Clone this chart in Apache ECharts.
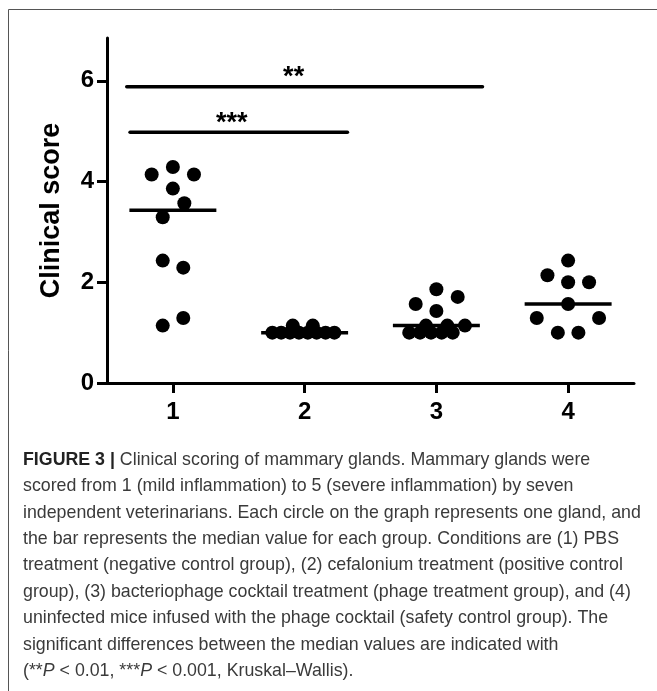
<!DOCTYPE html>
<html><head><meta charset="utf-8">
<script src="https://cdn.jsdelivr.net/npm/echarts@6/dist/echarts.min.js"></script>
<style>html,body{margin:0;padding:0;background:#fff}#c{width:657px;height:691px}</style>
</head><body><div id="c"></div>
<script>
// ---------- data ----------
const categories = ['1', '2', '3', '4'];
const group1 = [4.14, 4.29, 4.14, 3.86, 3.57, 3.29, 2.43, 2.29, 1.14, 1.29];
const group2 = [1, 1, 1, 1, 1, 1, 1, 1, 1.14, 1.14];
const group3 = [1.86, 1.71, 1.57, 1.43, 1.14, 1.14, 1.14, 1, 1, 1, 1, 1];
const group4 = [2.43, 2.14, 2.0, 2.0, 1.57, 1.29, 1.29, 1.0, 1.0];
const medians = [3.43, 1.0, 1.14, 1.57];
const yTickValues = [0, 2, 4, 6];
const sigLabels = ['***', '**'];
const sigFrom = [1, 1];
const sigTo = [2, 3];
const sigLevel = [4.98, 5.88];
const yAxisTitle = 'Clinical score';
const captionLines = [
  '{b|FIGURE 3 |} Clinical scoring of mammary glands. Mammary glands were',
  'scored from 1 (mild inflammation) to 5 (severe inflammation) by seven',
  'independent veterinarians. Each circle on the graph represents one gland, and',
  'the bar represents the median value for each group. Conditions are (1) PBS',
  'treatment (negative control group), (2) cefalonium treatment (positive control',
  'group), (3) bacteriophage cocktail treatment (phage treatment group), and (4)',
  'uninfected mice infused with the phage cocktail (safety control group). The',
  'significant differences between the median values are indicated with',
  '(**{i|P} < 0.01, ***{i|P} < 0.001, Kruskal\u2013Wallis).'
];

// ---------- layout (horizontal spread of dots, in category widths) ----------
const jitter1 = [-0.161, 0, 0.160, 0, 0.087, -0.077, -0.077, 0.079, -0.077, 0.079];
const jitter2 = [-0.245, -0.178, -0.111, -0.043, 0.024, 0.091, 0.159, 0.226, -0.090, 0.062];
const jitter3 = [0, 0.162, -0.157, 0, -0.079, 0.083, 0.217, -0.206, -0.124, -0.041, 0.040, 0.124];
const jitter4 = [0, -0.157, 0, 0.159, 0, -0.238, 0.235, -0.078, 0.078];
const medianHalf = 0.33;
const sigHalf = [0.325, 0.35];
const sigTextShift = [-7, -11];

const groups = [group1, group2, group3, group4];
const jitters = [jitter1, jitter2, jitter3, jitter4];

const scatterSeries = groups.map((g, gi) => ({
  type: 'scatter',
  symbol: 'circle',
  symbolSize: 14,
  itemStyle: { color: '#000', opacity: 1 },
  silent: true,
  z: 3,
  data: g.map((v, i) => [gi + 1 + jitters[gi][i], v])
}));

const medianSeries = {
  type: 'custom',
  z: 2,
  silent: true,
  data: medians.map((m, i) => [i + 1, m]),
  renderItem: function (params, api) {
    const x = api.value(0), y = api.value(1);
    const p1 = api.coord([x - medianHalf, y]);
    const p2 = api.coord([x + medianHalf, y]);
    return { type: 'line', shape: { x1: p1[0], y1: p1[1], x2: p2[0], y2: p2[1] },
      style: { stroke: '#000', lineWidth: 3.5 } };
  }
};

const sigSeries = {
  type: 'custom',
  z: 4,
  silent: true,
  clip: false,
  data: sigLabels.map((l, i) => [sigFrom[i], sigTo[i], sigLevel[i], i]),
  renderItem: function (params, api) {
    const a = api.value(0), b = api.value(1), y = api.value(2), k = api.value(3);
    const p1 = api.coord([a - sigHalf[k], y]);
    const p2 = api.coord([b + sigHalf[k], y]);
    const mid = (p1[0] + p2[0]) / 2 + sigTextShift[k];
    return { type: 'group', children: [
      { type: 'line', shape: { x1: p1[0], y1: p1[1], x2: p2[0], y2: p2[1] },
        style: { stroke: '#000', lineWidth: 3.5, lineCap: 'round' } },
      { type: 'text', x: mid, y: p1[1] - 9,
        style: { text: sigLabels[k], fontFamily: 'Liberation Sans', fontWeight: 'bold',
          fontSize: 27, fill: '#000', align: 'center', verticalAlign: 'middle' } }
    ] };
  }
};

const captionGraphics = captionLines.map((t, i) => ({
  type: 'text',
  left: 23,
  top: 451 + i * 26.4,
  silent: true,
  style: {
    text: t,
    fontFamily: 'Liberation Sans',
    fontSize: 17.8,
    fill: '#3a3a3a',
    rich: {
      b: { fontWeight: 'bold', fontSize: 17.8, fontFamily: 'Liberation Sans', fill: '#222' },
      i: { fontStyle: 'italic', fontSize: 17.8, fontFamily: 'Liberation Sans', fill: '#3a3a3a' }
    }
  }
}));

const chart = echarts.init(document.getElementById('c'), null, { renderer: 'canvas' });
chart.setOption({
  animation: false,
  backgroundColor: '#fff',
  grid: { left: 107, right: 23, top: 38, bottom: 308, containLabel: false },
  xAxis: {
    type: 'value', min: 0.5, max: 4.5,
    splitLine: { show: false },
    axisLine: { lineStyle: { color: '#000', width: 3 } },
    axisTick: { show: true, length: 10, lineStyle: { color: '#000', width: 3 },
      customValues: [1, 2, 3, 4] },
    axisLabel: { customValues: [1, 2, 3, 4], margin: 17,
      formatter: v => categories[Math.round(v) - 1] || '',
      fontFamily: 'Liberation Sans', fontWeight: 'bold', fontSize: 24, color: '#000' }
  },
  yAxis: {
    type: 'value', min: 0, max: 6.85,
    name: yAxisTitle, nameLocation: 'middle', nameGap: 42, nameRotate: 90,
    nameTextStyle: { fontFamily: 'Liberation Sans', fontWeight: 'bold', fontSize: 27, color: '#000' },
    splitLine: { show: false },
    axisLine: { lineStyle: { color: '#000', width: 3 } },
    axisTick: { show: true, length: 10, lineStyle: { color: '#000', width: 3 },
      customValues: yTickValues },
    axisLabel: { customValues: yTickValues, margin: 13,
      fontFamily: 'Liberation Sans', fontWeight: 'bold', fontSize: 24, color: '#000' }
  },
  graphic: [
    { type: 'line', silent: true, shape: { x1: 8.5, y1: 9.5, x2: 657, y2: 9.5 },
      style: { stroke: '#555', lineWidth: 1 } },
    { type: 'line', silent: true, shape: { x1: 8.5, y1: 9.5, x2: 8.5, y2: 691 },
      style: { stroke: '#555', lineWidth: 1 } }
  ].concat(captionGraphics),
  series: [medianSeries].concat(scatterSeries).concat([sigSeries])
});
</script>
</body></html>
